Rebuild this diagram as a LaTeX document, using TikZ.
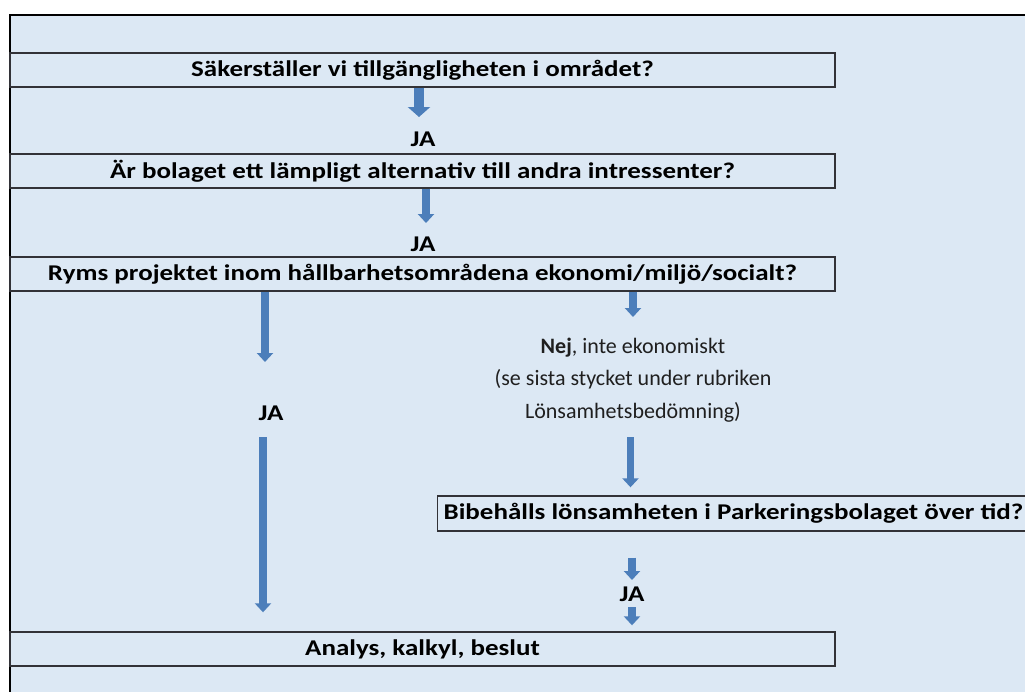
\documentclass[tikz,border=0pt]{standalone}
\usepackage{fontspec}
\setmainfont{Carlito}
\newfontfamily\wideb{Carlito}[UprightFont=* Bold, FakeStretch=1.2]
\usetikzlibrary{arrows.meta,calc}
\definecolor{bgblue}{RGB}{220,232,244}
\definecolor{arrblue}{RGB}{76,126,186}
\definecolor{boxline}{RGB}{50,50,55}
\tikzset{
  box/.style={draw=boxline, line width=1.4pt, fill=none, inner sep=0pt,
    font=\fontsize{22.5}{26}\wideb},
  lbl/.style={inner sep=0pt, font=\fontsize{22.5}{26}\wideb},
  blk/.style={draw=arrblue, line width=7.5pt,
    -{Triangle[width=16pt,length=9pt]}},
  blkbig/.style={draw=arrblue, line width=10pt,
    -{Triangle[width=22pt,length=10pt]}},
}
\begin{document}
\begin{tikzpicture}[x=1pt,y=-1pt]
\useasboundingbox (0,0) rectangle (1025,691);
\clip (0,0) rectangle (1025,691);
\fill[white] (0,0) rectangle (1025,691);
\fill[bgblue] (10,15) rectangle (1040,700);
\draw[line width=2.5pt, black] (10,705) -- (10,15) -- (1040,15);

% boxes
\node[box, minimum width=825pt, minimum height=34pt] (b1) at (422.5,70)
  {Säkerställer vi tillgängligheten i området?};
\node[box, minimum width=825pt, minimum height=34pt] (b2) at (422.5,171)
  {Är bolaget ett lämpligt alternativ till andra intressenter?};
\node[box, minimum width=825pt, minimum height=34pt] (b3) at (422.5,274)
  {Ryms projektet inom hållbarhetsområdena ekonomi/miljö/socialt?};
\node[box, minimum width=610pt, minimum height=35pt, anchor=west] (b4) at (437,513.5)
  {\makebox[598pt][l]{Bibehålls lönsamheten i Parkeringsbolaget över tid?}};
\node[box, minimum width=825pt, minimum height=34pt] (b5) at (422.5,649)
  {Analys, kalkyl, beslut};

% labels
\node[lbl] (ja1) at (423,139) {JA};
\node[lbl] (ja2) at (423,244) {JA};
\node[lbl] (ja3) at (271,413) {JA};
\node[lbl] (ja4) at (632,594) {JA};
\node[inner sep=0pt, align=center, text=black!88, font=\fontsize{22}{32.5}\selectfont] (nej) at (633,380)
  {\textbf{Nej}, inte ekonomiskt\\(se sista stycket under rubriken\\Lönsamhetsbedömning)};

% arrows
\draw[blkbig, shorten >=22pt] ([xshift=-4pt]ja1.center |- b1.south) -- ([xshift=-4pt]ja1.center);
\draw[blk, shorten >=21pt] ([xshift=3pt]ja2.center |- b2.south) -- ([xshift=3pt]ja2.center);
\draw[blk, shorten >=51pt] ([xshift=-6pt]ja3.center |- b3.south) -- ([xshift=-6pt]ja3.center);
\draw[blk, shorten <=24pt, shorten >=19pt] ([xshift=-8pt]ja3.center) -- ([xshift=-8pt]ja3.center |- b5.north);
\draw[blk, shorten >=63pt] (nej.center |- b3.south) -- (nej.center);
\draw[blk, shorten <=57pt, shorten >=8pt] ([xshift=-2.5pt]nej.center) -- ([xshift=-2.5pt]nej.center |- b4.north);
\draw[blk, shorten <=26pt, shorten >=14pt] (ja4.center |- b4.south) -- (ja4.center);
\draw[blk, shorten <=13pt, shorten >=6pt] (ja4.center) -- (ja4.center |- b5.north);
\end{tikzpicture}
\end{document}
